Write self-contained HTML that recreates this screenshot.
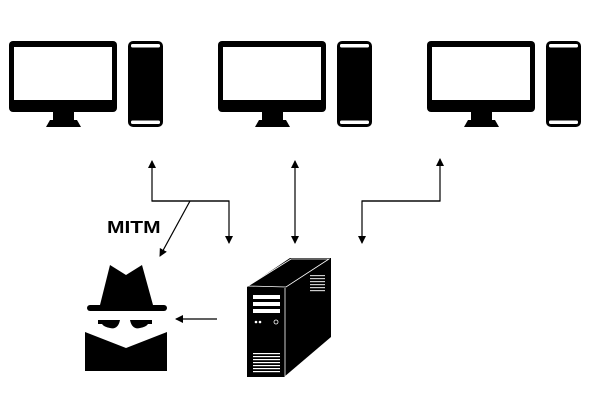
<!DOCTYPE html>
<html><head><style>body{margin:0;background:#fff}svg{display:block}</style></head><body>
<svg width="592" height="402" viewBox="0 0 592 402" xmlns="http://www.w3.org/2000/svg">
<defs>
<g id="pc">
<rect x="9" y="41" width="108" height="71" rx="4" fill="#000"/>
<rect x="14" y="47" width="98" height="53" fill="#fff"/>
<rect x="53" y="112" width="21" height="9" fill="#000"/>
<path d="M46 127 L50 120 L77 120 L81 127 Z" fill="#000"/>
<rect x="128" y="41" width="35" height="86" rx="5" fill="#000"/>
<rect x="131" y="44" width="29" height="3.5" rx="1.5" fill="#fff"/>
<rect x="131" y="120.5" width="29" height="3.5" rx="1.5" fill="#fff"/>
</g>
<marker id="ah" markerWidth="8" markerHeight="8" refX="7" refY="4" orient="auto" markerUnits="userSpaceOnUse"><path d="M0 0 L8 4 L0 8 Z" fill="#000"/></marker>
</defs>
<use href="#pc"/>
<use href="#pc" x="209"/>
<use href="#pc" x="418"/>
<g stroke="#000" stroke-width="1.2" fill="none">
<path d="M229 201 L152 201 L152 161" marker-end="url(#ah)"/>
<path d="M152 201 L229 201 L229 243" marker-end="url(#ah)"/>
<path d="M190 201 L160 256" marker-end="url(#ah)"/>
<path d="M295 200 L295 161" marker-end="url(#ah)"/>
<path d="M295 200 L295 243" marker-end="url(#ah)"/>
<path d="M440 201 L362 201 L362 243" marker-end="url(#ah)"/>
<path d="M362 201 L440 201 L440 159" marker-end="url(#ah)"/>
<path d="M217 319 L176 319" marker-end="url(#ah)"/>
</g>
<text x="0" y="0" transform="translate(107,233) scale(1.2,1)" font-family="Liberation Sans, sans-serif" font-weight="bold" font-size="17.5" fill="#000">MITM</text>
<!-- spy -->
<path d="M100 305 L110 265 L126 275 L142 265 L153 305 Z" fill="#000"/>
<rect x="87" y="305" width="80" height="6" rx="3" fill="#000"/>
<path d="M98 320 L120 320 Q118 330 110 328 Q104 327 102 324 L98 324 Z" fill="#000"/>
<path d="M130 320 L152 320 L152 324 L148 324 Q146 327 140 328 Q132 330 130 320 Z" fill="#000"/>
<path d="M85 332 L126 348 L167 332 L167 371 L85 371 Z" fill="#000"/>
<!-- server -->
<path d="M247 287 L290 258 L331 258 L331 337 L284 377 L247 377 Z" fill="#000"/>
<path d="M248 286 L291 259 L329 259 L286 287 Z" fill="none" stroke="#fff" stroke-width="0.8"/>
<line x1="285" y1="288" x2="285" y2="376" stroke="#fff" stroke-width="0.8"/>
<rect x="253" y="295" width="27" height="4" fill="#fff"/>
<rect x="253" y="302" width="27" height="4" fill="#fff"/>
<rect x="253" y="309" width="27" height="4" fill="#fff"/>
<circle cx="256" cy="322" r="1.3" fill="#fff"/><circle cx="260" cy="322" r="1.3" fill="#fff"/>
<circle cx="276" cy="322" r="2" fill="none" stroke="#fff" stroke-width="0.8"/>
<g fill="#fff"><rect x="253" y="353" width="27" height="1.2"/><rect x="253" y="356" width="27" height="1.2"/><rect x="253" y="359" width="27" height="1.2"/><rect x="253" y="362" width="27" height="1.2"/><rect x="253" y="365" width="27" height="1.2"/><rect x="253" y="368" width="27" height="1.2"/><rect x="253" y="371" width="27" height="1.2"/></g>
<g fill="#fff" opacity="0.8"><rect x="310" y="275" width="15" height="1.2"/><rect x="310" y="278" width="15" height="1.2"/><rect x="310" y="281" width="15" height="1.2"/><rect x="310" y="284" width="15" height="1.2"/><rect x="310" y="287" width="15" height="1.2"/><rect x="310" y="290" width="15" height="1.2"/></g>
</svg>
</body></html>
